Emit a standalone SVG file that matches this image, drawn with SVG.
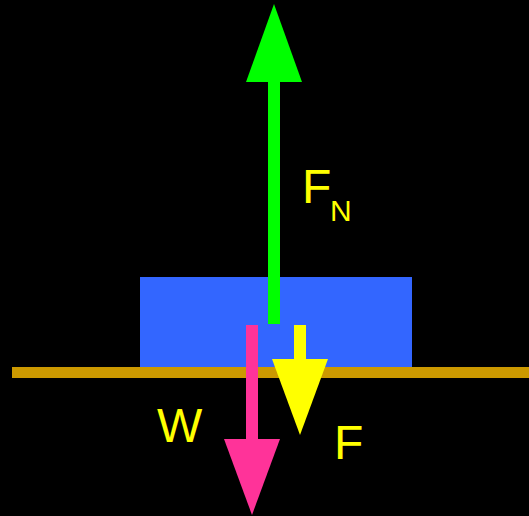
<svg xmlns="http://www.w3.org/2000/svg" width="529" height="516" viewBox="0 0 529 516">
<style>
.lbl{font-family:"Liberation Sans",Arial,sans-serif;fill:#ffff00}
</style>
<rect x="0" y="0" width="529" height="516" fill="#000000"/>
<g id="block"><rect x="140" y="277" width="272" height="90" fill="#3366ff"/></g>
<g id="ground"><rect x="12" y="367" width="517" height="11" fill="#cc9900"/></g>
<g id="connectors">
<g id="normal-force" fill="#00ff00">
<rect x="268" y="80" width="12" height="244"/>
<polygon points="246,82 302,82 274,4"/>
</g>
<g id="weight" fill="#ff3399">
<rect x="246" y="325" width="12" height="116"/>
<polygon points="224,439 280,439 252,515"/>
</g>
<g id="force" fill="#ffff00">
<rect x="294" y="325" width="12" height="35"/>
<polygon points="272,359 328,359 300,435"/>
</g>
</g>
<g id="labels">
<text class="lbl" x="302" y="203" font-size="48">F</text>
<text class="lbl" x="330" y="221" font-size="30">N</text>
<text class="lbl" x="157" y="442" font-size="48">W</text>
<text class="lbl" x="334" y="459" font-size="48">F</text>
</g>
</svg>
